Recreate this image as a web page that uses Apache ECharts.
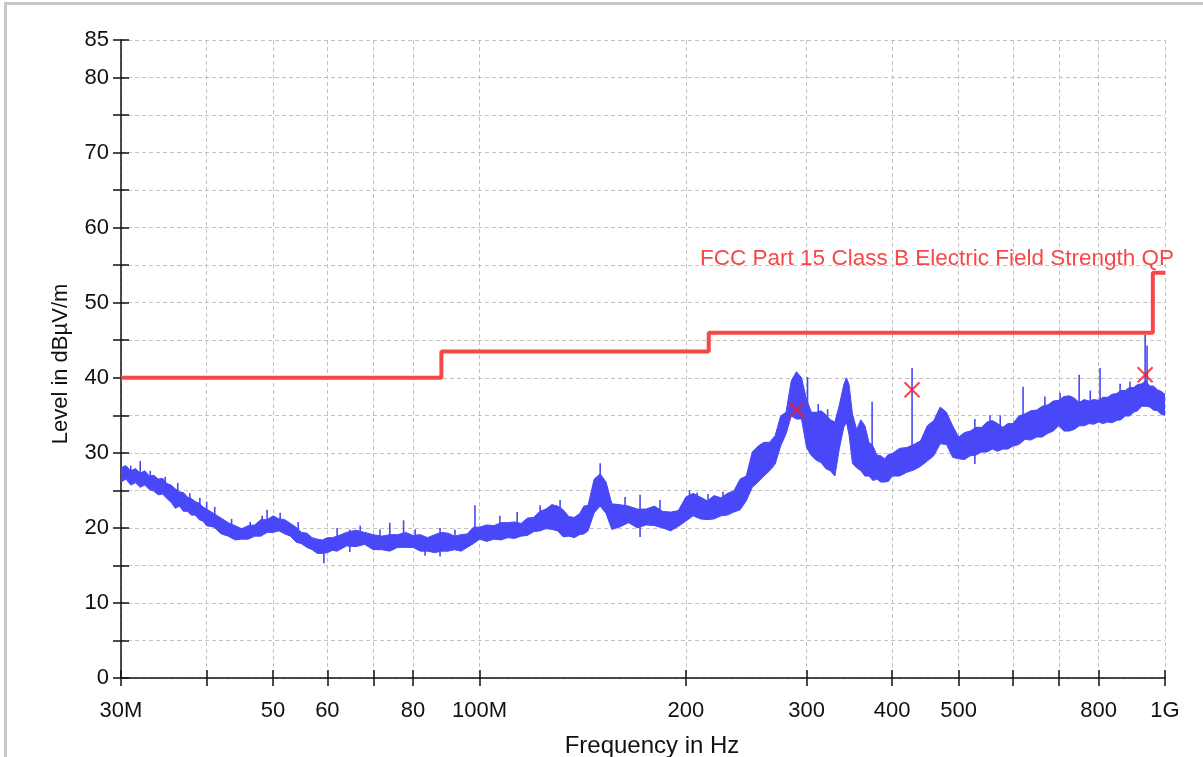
<!DOCTYPE html>
<html><head><meta charset="utf-8">
<script src="https://cdn.jsdelivr.net/npm/echarts@6/dist/echarts.min.js"></script>
<style>
html,body{margin:0;padding:0;background:#fff;}
#frame{position:absolute;left:4px;top:2px;width:1199px;height:755px;border-left:3px solid #c8c8c8;border-top:3px solid #c8c8c8;box-sizing:border-box;}
#chart{position:absolute;left:0;top:0;width:1203px;height:757px;}
</style></head><body>
<div id="frame"></div><div id="chart"></div>
<script>
// ---- data ----
const xTickValues = [30, 40, 50, 60, 70, 80, 100, 200, 300, 400, 500, 600, 700, 800, 1000];
const xLabelValues = [30, 50, 60, 80, 100, 200, 300, 400, 500, 800, 1000];
const xLabelText = {30: '30M', 100: '100M', 1000: '1G'};
const yLabelValues = [0, 10, 20, 30, 40, 50, 60, 70, 80, 85];
const xTitle = 'Frequency in Hz';
const yTitle = 'Level in dB\u00b5V/m';
const limitName = 'FCC Part 15 Class B Electric Field Strength QP';
const limitFreq = [30, 88, 216, 960, 1000];
const limitLevel = [40, 43.5, 46, 54, 54];
// measured trace: [frequency MHz, lower level, upper level]
const trace = [
  [30, 26.1, 28.0], [30.5, 26.5, 28.3], [31, 25.7, 27.6], [31.5, 26.0, 27.9], [32, 25.4, 27.3],
  [32.5, 25.7, 27.6], [33, 25.1, 26.9], [33.5, 24.9, 27.0], [34, 24.4, 26.5], [34.5, 24.5, 26.6],
  [35, 23.9, 25.9], [35.5, 23.4, 25.7], [36, 22.6, 25.2], [36.5, 22.9, 24.8], [37, 22.2, 24.7],
  [37.5, 22.2, 24.1], [38, 21.7, 23.9], [38.5, 21.7, 23.5], [39, 21.1, 23.3], [39.5, 20.9, 22.8],
  [40, 20.3, 22.5], [41, 20.1, 21.9], [42, 19.2, 21.3], [43, 18.9, 20.7], [44, 18.4, 20.3],
  [45, 18.5, 19.9], [46, 18.5, 20.3], [47, 18.9, 20.4], [48, 18.9, 21.1], [49, 19.4, 21.1],
  [50, 19.4, 21.6], [51, 19.6, 21.2], [52, 19.2, 21.1], [53, 18.9, 20.6], [54, 18.1, 20.1],
  [55, 17.9, 19.4], [56, 17.4, 19.3], [57, 17.1, 18.7], [58, 16.6, 18.5], [59, 16.6, 18.4],
  [60, 16.7, 18.7], [61, 17.0, 18.7], [62, 16.9, 18.9], [64, 17.6, 19.4], [66, 17.5, 19.7],
  [68, 17.8, 19.4], [70, 17.1, 19.1], [72, 17.1, 18.9], [74, 16.9, 19.1], [76, 17.4, 19.1],
  [78, 17.4, 19.4], [80, 17.4, 19.0], [82, 16.9, 19.1], [84, 16.9, 18.7], [86, 16.7, 19.1],
  [88, 16.9, 19.4], [90, 16.9, 19.3], [92, 17.1, 18.9], [94, 16.9, 19.1], [96, 17.4, 19.2],
  [98, 17.9, 20.1], [100, 18.5, 20.1], [102.5, 18.2, 20.4], [105, 18.5, 20.3], [107.5, 18.4, 20.7],
  [110, 18.7, 20.7], [112.5, 18.6, 20.8], [115, 18.9, 20.6], [117.5, 19.0, 21.3], [120, 19.5, 21.4],
  [122.5, 19.6, 22.2], [125, 19.9, 22.5], [127.5, 19.8, 23.1], [130, 19.6, 22.9], [132.5, 18.8, 22.4],
  [135, 18.9, 21.5], [137.5, 18.7, 21.4], [140, 19.1, 21.9], [142, 19.2, 22.9], [144, 19.6, 23.0],
  [147, 22.0, 26.5], [150, 22.9, 27.2], [153, 21.9, 26.1], [156, 19.8, 23.2], [160, 20.1, 23.1],
  [165, 20.7, 22.9], [170, 20.0, 22.5], [175, 20.4, 22.5], [180, 20.3, 22.9], [185, 20.0, 22.2],
  [190, 19.6, 22.1], [195, 20.2, 22.3], [200, 20.9, 24.1], [205, 21.6, 24.6], [210, 21.2, 24.1],
  [215, 21.1, 23.6], [220, 21.2, 24.3], [225, 21.6, 24.0], [230, 21.7, 24.6], [235, 22.1, 24.9],
  [240, 22.4, 26.5], [245, 23.6, 26.9], [250, 25.4, 30.1], [255, 26.1, 30.9], [260, 26.9, 31.4],
  [265, 27.6, 31.4], [270, 28.5, 32.3], [275, 30.9, 34.9], [280, 32.5, 35.4], [285, 34.9, 39.6],
  [290, 34.5, 40.8], [295, 34.5, 40.0], [300, 30.7, 37.1], [305, 29.6, 35.4], [310, 29.0, 35.4],
  [315, 28.7, 35.6], [320, 27.9, 35.1], [325, 27.6, 34.4], [330, 26.9, 34.1], [335, 30.6, 36.4],
  [340, 33.4, 39.1], [343, 34.1, 40.0], [346, 32.4, 39.1], [350, 28.6, 35.2], [355, 28.0, 33.1],
  [360, 27.6, 34.4], [365, 26.9, 33.6], [370, 26.9, 31.4], [375, 26.3, 30.9], [380, 26.5, 29.7],
  [385, 26.1, 29.6], [390, 26.1, 29.2], [395, 26.2, 29.8], [400, 26.9, 29.9], [410, 26.9, 30.6],
  [420, 27.4, 30.7], [430, 27.7, 31.1], [440, 28.2, 31.6], [450, 28.9, 33.6], [460, 29.6, 34.3],
  [470, 31.2, 36.1], [480, 31.1, 35.4], [490, 29.4, 33.6], [500, 29.2, 32.1], [510, 29.1, 32.7],
  [520, 29.6, 32.9], [530, 29.7, 33.4], [540, 30.1, 33.4], [550, 30.1, 34.1], [560, 30.5, 34.3],
  [570, 30.2, 33.9], [580, 30.5, 33.4], [590, 30.5, 33.9], [600, 30.9, 33.9], [612, 31.1, 34.9],
  [625, 31.8, 35.2], [637, 31.7, 35.6], [650, 32.1, 35.7], [662, 32.1, 36.2], [675, 32.6, 36.4],
  [687, 32.9, 36.9], [700, 33.6, 37.0], [712, 32.9, 37.5], [725, 32.9, 37.6], [737, 33.1, 37.3],
  [750, 33.6, 36.7], [762, 33.6, 37.1], [775, 33.9, 36.9], [787, 33.8, 37.1], [800, 34.1, 37.0],
  [812, 33.9, 37.4], [825, 34.1, 37.4], [837, 34.0, 37.8], [850, 34.3, 37.9], [862, 34.4, 38.3],
  [875, 34.9, 38.3], [887, 34.9, 38.7], [900, 35.4, 38.7], [912, 35.6, 39.1], [925, 36.2, 39.2],
  [937, 36.2, 39.6], [950, 36.1, 38.9], [962, 35.7, 38.9], [975, 35.6, 38.4], [987, 35.1, 38.2],
  [1000, 35.0, 37.8]
];
// narrow spikes: [frequency MHz, from level, to level]
const spikes = [
  [31.0, 27.0, 28.3], [32, 27.0, 28.9], [33.1, 26.5, 27.6], [34.8, 25.5, 26.8], [36.3, 24.5, 26.0],
  [37.8, 23.4, 24.6], [39.1, 22.9, 24.0], [40, 22.0, 23.5], [41.1, 21.6, 22.8], [43.5, 20.2, 21.2],
  [46.3, 19.9, 20.8], [48.2, 20.8, 21.6], [49, 20.8, 22.4], [51.2, 21.0, 22.0], [54.4, 19.8, 20.8],
  [59.3, 15.3, 16.8], [62, 18.5, 20.0], [64.7, 16.8, 19.8], [67.0, 19.2, 20.3], [71.6, 18.6, 19.8],
  [74, 18.8, 20.7], [77.5, 19.0, 21.0], [80.6, 18.8, 19.8], [83.3, 16.3, 17.5], [87.6, 16.2, 20.0],
  [92.1, 18.6, 19.8], [98.5, 19.8, 23.0], [107.1, 20.3, 21.6], [113.5, 20.4, 22.1], [122.6, 21.8, 23.0],
  [131.1, 22.5, 23.7], [150, 26.8, 28.6], [163.1, 22.6, 24.1], [171.5, 18.8, 24.4], [183.4, 22.4, 23.7],
  [202.5, 23.5, 25.0], [207.7, 23.8, 24.7], [215.5, 23.4, 24.5], [226.6, 23.8, 24.8],
  [301, 35.5, 40.1], [312, 30.0, 36.5], [322, 29.0, 35.8], [373.9, 30.0, 36.8],
  [427.6, 30.5, 41.3], [528, 28.5, 34.5], [555.6, 33.8, 35.0], [575, 33.0, 35.0], [620.8, 34.5, 38.8],
  [668, 36.0, 37.5], [703, 36.5, 38.0], [749.5, 36.5, 40.4], [778, 36.5, 38.3],
  [804, 36.8, 41.3], [860, 37.8, 39.2], [889, 38.3, 39.5], [935.5, 39.0, 45.7], [941.6, 39.0, 44.3]
];
const markerFreq = [290.3, 427.6, 935.5];
const markerLevel = [35.7, 38.4, 40.4];

// ---- chart ----
const FONT = '"Liberation Sans", Arial, sans-serif';
const TRACE_COLOR = '#4848f8';
const LIMIT_COLOR = '#f54848';
const AXIS_COLOR = '#111';
const GRID_LINE = {type: [4, 3], color: '#c2c2c2', width: 1};

const chart = echarts.init(document.getElementById('chart'), null, {renderer: 'canvas'});

const xBase = {type: 'log', logBase: 10, min: 30, max: 1000, gridIndex: 0};
const yBase = {type: 'value', min: 0, max: 85, interval: 5, gridIndex: 0};

const option = {
  animation: false,
  backgroundColor: 'transparent',
  grid: {left: 121, top: 40, width: 1044, height: 638, containLabel: false},
  xAxis: [
    Object.assign({}, xBase, {
      position: 'bottom',
      axisLine: {show: true, onZero: false, lineStyle: {color: AXIS_COLOR, width: 1.5}},
      axisTick: {show: true, customValues: xTickValues, length: 8, inside: false, lineStyle: {color: AXIS_COLOR, width: 1.5}},
      axisLabel: {customValues: xLabelValues, fontSize: 22, color: AXIS_COLOR, fontFamily: FONT, margin: 22,
        formatter: v => xLabelText[v] || String(v)},
      splitLine: {show: true, lineStyle: GRID_LINE},
      minorTick: {show: false}, minorSplitLine: {show: false}
    }),
    Object.assign({}, xBase, {
      position: 'top', offset: -638,
      axisLine: {show: false},
      axisTick: {show: true, customValues: xTickValues, length: 8, inside: false, lineStyle: {color: AXIS_COLOR, width: 1.5}},
      axisLabel: {show: false},
      splitLine: {show: false}
    })
  ],
  yAxis: [
    Object.assign({}, yBase, {
      position: 'left',
      axisLine: {show: true, onZero: false, lineStyle: {color: AXIS_COLOR, width: 1.5}},
      axisTick: {show: true, length: 8, inside: false, lineStyle: {color: AXIS_COLOR, width: 1.5}},
      axisLabel: {fontSize: 22, color: AXIS_COLOR, fontFamily: FONT, margin: 12,
        formatter: v => (yLabelValues.indexOf(v) >= 0 ? String(v) : '')},
      splitLine: {show: true, lineStyle: GRID_LINE}
    }),
    Object.assign({}, yBase, {
      position: 'right', offset: -1044,
      axisLine: {show: false},
      axisTick: {show: true, length: 8, inside: false, lineStyle: {color: AXIS_COLOR, width: 1.5}},
      axisLabel: {show: false},
      splitLine: {show: false}
    })
  ],
  series: [
    {
      type: 'custom', name: 'trace', xAxisIndex: 0, yAxisIndex: 0, clip: true,
      data: trace, encode: {x: 0, y: [1, 2]}, z: 2,
      renderItem: function (params, api) {
        if (params.dataIndex !== 0) return null;
        const upper = trace.map(r => api.coord([r[0], r[2]]));
        const lower = trace.map(r => api.coord([r[0], r[1]])).reverse();
        return {
          type: 'polygon',
          shape: {points: upper.concat(lower)},
          style: {fill: TRACE_COLOR, stroke: TRACE_COLOR, lineWidth: 1, lineJoin: 'miter'}
        };
      }
    },
    {
      type: 'custom', name: 'spikes', xAxisIndex: 0, yAxisIndex: 0, clip: true,
      data: spikes, encode: {x: 0, y: [1, 2]}, z: 2,
      renderItem: function (params, api) {
        const a = api.coord([api.value(0), api.value(1)]);
        const b = api.coord([api.value(0), api.value(2)]);
        return {type: 'line', shape: {x1: a[0], y1: a[1], x2: b[0], y2: b[1]},
          style: {stroke: TRACE_COLOR, lineWidth: 1.6}};
      }
    },
    {
      type: 'line', name: limitName, xAxisIndex: 0, yAxisIndex: 0, step: 'end',
      data: limitFreq.map((f, i) => [f, limitLevel[i]]),
      symbol: 'none', lineStyle: {color: LIMIT_COLOR, width: 4}, z: 3
    },
    {
      type: 'scatter', name: 'markers', xAxisIndex: 0, yAxisIndex: 0,
      data: markerFreq.map((f, i) => [f, markerLevel[i]]),
      symbol: 'path://M0,0L10,10M10,0L0,10', symbolSize: 15,
      itemStyle: {color: 'rgba(0,0,0,0)', borderColor: '#ff1a1a', borderWidth: 2.2}, z: 4
    }
  ],
  graphic: [
    {type: 'text', x: 1174, y: 259, z: 10,
      style: {text: limitName, fill: LIMIT_COLOR, font: '22.5px ' + FONT, align: 'right', verticalAlign: 'middle'}},
    {type: 'text', x: 652, y: 746, z: 10,
      style: {text: xTitle, fill: AXIS_COLOR, font: '24px ' + FONT, align: 'center', verticalAlign: 'middle'}},
    {type: 'text', x: 61, y: 364, rotation: Math.PI / 2, z: 10,
      style: {text: yTitle, fill: AXIS_COLOR, font: '22px ' + FONT, align: 'center', verticalAlign: 'middle'}}
  ]
};
chart.setOption(option);
</script>
</body></html>
